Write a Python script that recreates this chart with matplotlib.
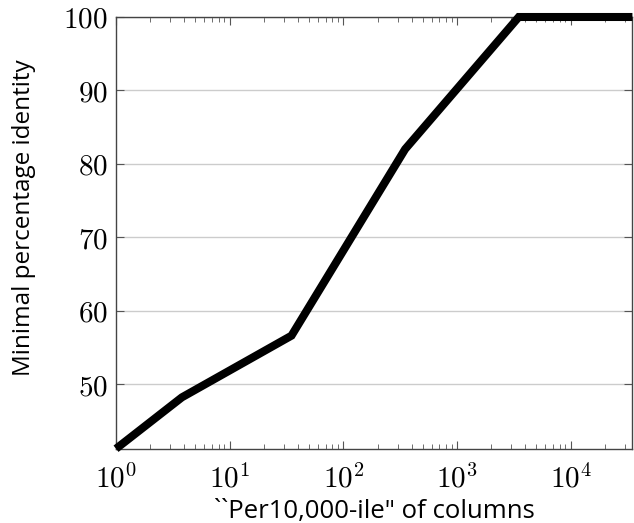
"""
Minimal percentage identity against per10,000-ile of columns
"""
import matplotlib
matplotlib.use("Agg")
import matplotlib.pyplot as plt
from matplotlib.ticker import LogLocator, FixedLocator, NullFormatter

plt.rcParams["mathtext.fontset"] = "cm"
plt.rcParams["font.family"] = ["Open Sans", "DejaVu Sans"]

# data
per10000 = [1, 3.8, 35, 350, 3500, 35000]
identity = [41.2, 48.2, 56.6, 82.0, 100, 100]
y_ticks = [50, 60, 70, 80, 90, 100]
x_ticks = [1, 10, 100, 1000, 10000]


def draw():
    fig = plt.figure(figsize=(6.34, 5.23), dpi=100)
    ax = fig.add_axes([0.183, 0.142, 0.8145, 0.8255])

    ax.plot(per10000, identity, color="black", linewidth=5.8,
            solid_joinstyle="miter", solid_capstyle="butt", clip_on=False,
            zorder=3)

    ax.set_xscale("log")
    ax.set_xlim(per10000[0], per10000[-1])
    ax.set_ylim(identity[0], 100)

    ax.xaxis.set_major_locator(FixedLocator(x_ticks))
    ax.set_xticklabels([f"$10^{{{i}}}$" for i in range(len(x_ticks))])
    ax.xaxis.set_minor_locator(LogLocator(base=10, subs=range(2, 10), numticks=20))
    ax.xaxis.set_minor_formatter(NullFormatter())
    ax.set_yticks(y_ticks)
    ax.set_yticklabels([f"${v}$" for v in y_ticks])

    ax.tick_params(axis="both", which="both", direction="in",
                   top=True, right=True, colors="#555555",
                   labelcolor="black", labelsize=21)
    ax.tick_params(which="major", length=6, width=0.8)
    ax.tick_params(which="minor", length=3.5, width=0.6)
    ax.tick_params(axis="x", pad=12)
    ax.tick_params(axis="y", pad=6)

    ax.grid(axis="y", which="major", color="#cccccc", linewidth=1.0)
    ax.set_axisbelow(True)
    for s in ax.spines.values():
        s.set_color("#444444")
        s.set_linewidth(1.0)

    ax.set_xlabel("``Per10,000-ile\" of columns", fontsize=18.5, labelpad=3)
    ax.set_ylabel("Minimal percentage identity", fontsize=17.5)
    ax.yaxis.set_label_coords(-0.155, 0.534)

    fig.savefig("out.png", dpi=100)


if __name__ == "__main__":
    draw()
